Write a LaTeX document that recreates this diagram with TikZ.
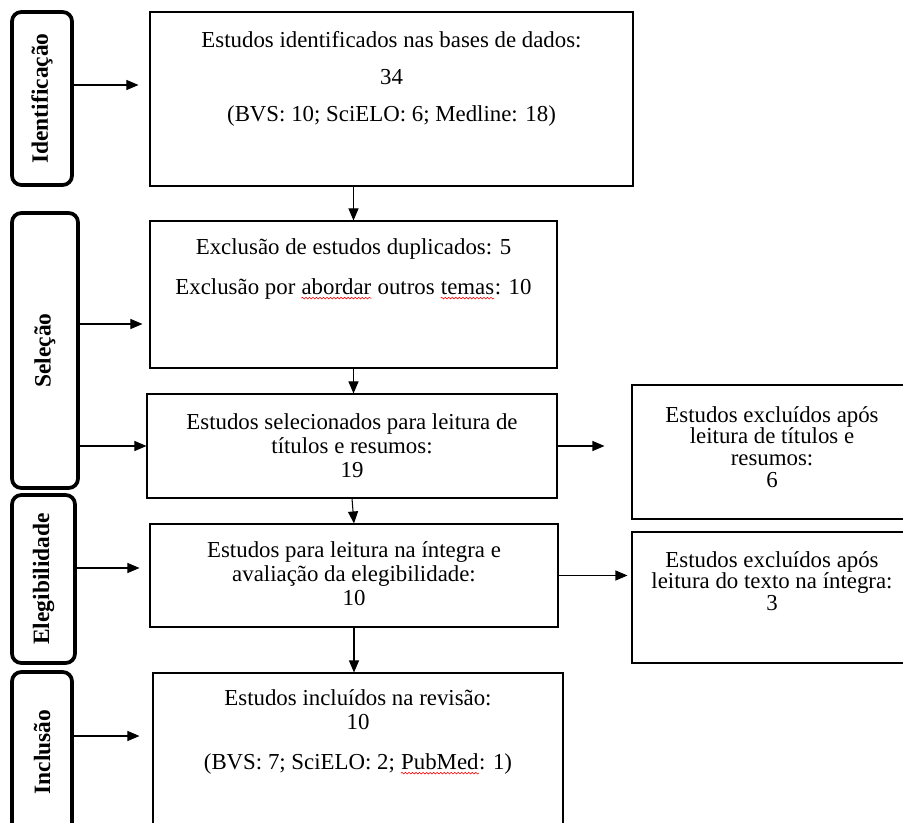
\documentclass[tikz,border=0pt]{standalone}
\usepackage{fontspec}
\setmainfont{Liberation Serif}
\usepackage{graphicx}
\usetikzlibrary{arrows.meta, calc, decorations.pathmorphing}
\newcommand\spellwave[1]{\tikz[baseline=(w.base)]{\node[inner sep=0pt] (w) {#1}; \draw[red, line width=0.5pt, decorate, decoration={snake, amplitude=0.7pt, segment length=3pt}] ([yshift=-3.5pt]w.base west) -- ([yshift=-3.5pt]w.base east);}}

\begin{document}
\begin{tikzpicture}[x=0.03cm, y=-0.03cm,
  stage/.style={draw, line width=3.2pt, rounded corners=8pt, inner sep=0pt, font=\fontsize{20}{22}\selectfont\bfseries},
  box/.style={draw, line width=0.9pt, inner sep=0pt},
  txt/.style={align=center, inner sep=0pt, anchor=north, font=\fontsize{19.5}{20.5}\selectfont},
  rtxt/.style={txt, font=\fontsize{19.5}{18.5}\selectfont},
  arr/.style={-{Triangle[length=0.36cm, width=0.3cm]}, line width=0.9pt}]
  \useasboundingbox (0,0) rectangle (903,823);
  \clip (0,0) rectangle (903,823);
  \node[stage, minimum width=1.8cm, minimum height=5.19cm] (ident) at (42,98.5) {\rotatebox{90}{Identificação}};
  \node[stage, minimum width=1.98cm, minimum height=8.25cm] (sel) at (45,350.5) {\rotatebox{90}{Seleção}};
  \node[stage, minimum width=1.89cm, minimum height=5.04cm] (eleg) at (43.5,579) {\rotatebox{90}{Elegibilidade}};
  \node[stage, minimum width=1.8cm, minimum height=4.8cm] (incl) at (42,752) {\rotatebox{90}{Inclusão}};
  \node[box, minimum width=14.49cm, minimum height=5.22cm] (b1) at (391.5,99) {};
  \node[txt] (b1txt) at ($(b1.north)+(0,20)$) {Estudos identificados nas bases de dados:\\[11pt]34\\[11pt](BVS: 10; SciELO: 6; Medline: 18)};
  \node[box, minimum width=12.21cm, minimum height=4.41cm] (b2) at (353.5,294.5) {};
  \node[txt] (b2txt) at ($(b2.north)+(0,17.5)$) {Exclusão de estudos duplicados: 5\\[13.6pt]Exclusão por \spellwave{abordar} outros \spellwave{temas}: 10};
  \node[box, minimum width=12.3cm, minimum height=3.12cm] (b3) at (352,446) {};
  \node[txt] (b3txt) at ($(b3.north)+(0,19.5)$) {Estudos selecionados para leitura de\\títulos e resumos:\\19};
  \node[box, minimum width=12.24cm, minimum height=3.09cm] (b4) at (354,575.5) {};
  \node[txt] (b4txt) at ($(b4.north)+(0,17.5)$) {Estudos para leitura na íntegra e\\avaliação da elegibilidade:\\10};
  \node[box, minimum width=12.3cm, minimum height=4.77cm] (b5) at (358,752.5) {};
  \node[txt] (b5txt) at ($(b5.north)+(0,16.5)$) {Estudos incluídos na revisão:\\10\\[13.6pt](BVS: 7; SciELO: 2; \spellwave{PubMed}: 1)};
  \node[box, minimum width=8.4cm, minimum height=4.02cm] (r1) at (772,452) {};
  \node[rtxt] (r1txt) at ($(r1.north)+(0,21.5)$) {Estudos excluídos após\\leitura de títulos e\\resumos:\\6};
  \node[box, minimum width=8.4cm, minimum height=3.93cm] (r2) at (772,597.5) {};
  \node[rtxt] (r2txt) at ($(r2.north)+(0,19.5)$) {Estudos excluídos após\\leitura do texto na íntegra:\\3};
  \coordinate (i1) at ($(ident.east)+(0,-13.5)$);
  \coordinate (s1) at ($(sel.east)+(0,-26.5)$);
  \coordinate (e1) at ($(eleg.east)+(0,-11)$);
  \coordinate (n1) at ($(incl.east)+(0,-16)$);
  \draw[arr, shorten >=0.33cm] (i1) -- (i1 -| b1.west);
  \draw[arr, shorten >=0.21cm] (s1) -- (s1 -| b2.west);
  \draw[arr] (sel.east |- b3.west) -- (b3.west);
  \draw[arr, shorten >=0.3cm] (e1) -- (e1 -| b4.west);
  \draw[arr, shorten >=0.39cm] (n1) -- (n1 -| b5.west);
  \draw[arr] (b2.north |- b1.south) -- (b2.north);
  \draw[arr] (b2.south) -- (b2.south |- b3.north);
  \draw[arr] (b3.south) -- (b4.north);
  \draw[arr] (b4.south) -- (b4.south |- b5.north);
  \draw[arr, shorten >=0.81cm] (b3.east) -- (b3.east -| r1.west);
  \draw[arr, shorten >=0.12cm] (b4.east) -- (b4.east -| r2.west);
\end{tikzpicture}
\end{document}
